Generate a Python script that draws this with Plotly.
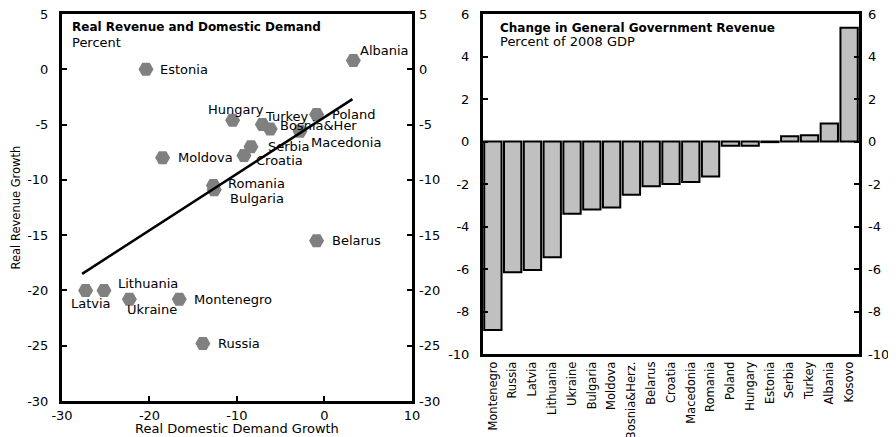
import plotly.graph_objects as go

# Left panel: real revenue growth vs real domestic demand growth (percent)
countries = ["Albania", "Estonia", "Hungary", "Turkey", "Bosnia&Her", "Poland", "Macedonia",
             "Serbia", "Croatia", "Moldova", "Romania", "Bulgaria", "Belarus",
             "Lithuania", "Latvia", "Ukraine", "Montenegro", "Russia"]
demand_growth = [3.3, -20.4, -10.5, -7.1, -6.2, -0.9, -2.8, -8.4, -9.2, -18.5,
                 -12.7, -12.6, -0.9, -25.2, -27.3, -22.3, -16.6, -13.9]
revenue_growth = [0.8, 0.0, -4.6, -5.0, -5.4, -4.1, -5.6, -7.0, -7.8, -8.0,
                  -10.5, -10.9, -15.5, -20.0, -20.0, -20.8, -20.8, -24.8]

# fitted line, end points
trend_demand = [-27.7, 3.2]
trend_revenue = [-18.5, -2.7]

left_x_ticks = [-30, -20, -10, 0, 10]
left_y_ticks = [5, 0, -5, -10, -15, -20, -25, -30]

# Right panel: change in general government revenue (percent of 2008 GDP)
bar_countries = ["Montenegro", "Russia", "Latvia", "Lithuania", "Ukraine", "Bulgaria",
                 "Moldova", "Bosnia&Herz.", "Belarus", "Croatia", "Macedonia", "Romania",
                 "Poland", "Hungary", "Estonia", "Serbia", "Turkey", "Albania", "Kosovo"]
revenue_change = [-8.87, -6.15, -6.05, -5.45, -3.4, -3.2, -3.1, -2.5, -2.1, -2.0,
                  -1.9, -1.65, -0.2, -0.2, -0.03, 0.25, 0.3, 0.85, 5.35]

right_y_ticks = [6, 4, 2, 0, -2, -4, -6, -8, -10]

# label offsets from the marker, in pixels (xshift, yshift)
label_shift = {
    "Albania": (5, 10), "Estonia": (12, 0), "Hungary": (-27, 11), "Turkey": (1, 8),
    "Bosnia&Her": (8, 3), "Poland": (13, 0), "Macedonia": (9, -11), "Serbia": (15, 0),
    "Croatia": (10, -5), "Moldova": (13, 0), "Romania": (13, 2), "Bulgaria": (14, -9),
    "Belarus": (13, 0), "Lithuania": (12, 7), "Latvia": (-17, -13), "Ukraine": (-4, -10),
    "Montenegro": (13, 0), "Russia": (13, 0),
}

FONT = "DejaVu Sans"

fig = go.Figure()

fig.add_trace(go.Scatter(x=demand_growth, y=revenue_growth, mode="markers",
                         marker=dict(symbol="hexagon2", size=15, color="#808080"),
                         showlegend=False, hoverinfo="skip", xaxis="x", yaxis="y"))
fig.add_trace(go.Scatter(x=trend_demand, y=trend_revenue, mode="lines",
                         line=dict(color="black", width=2.5),
                         showlegend=False, hoverinfo="skip", xaxis="x", yaxis="y"))
# dummy trace so the right-hand tick axis of the left panel gets drawn
fig.add_trace(go.Scatter(x=[None], y=[None], xaxis="x", yaxis="y2", showlegend=False))

fig.add_trace(go.Bar(x=bar_countries, y=revenue_change,
                     marker=dict(color="#c0c0c0", line=dict(color="black", width=2)),
                     showlegend=False, hoverinfo="skip", xaxis="x2", yaxis="y3"))
fig.add_trace(go.Scatter(x=[None], y=[None], xaxis="x2", yaxis="y4", showlegend=False))

tick_font = dict(family=FONT, size=13, color="black")
frame = dict(showline=True, linecolor="black", linewidth=3, showgrid=False,
             zeroline=False, automargin=False)
tick_only = dict(ticks="", showline=False, showgrid=False, zeroline=False,
                 automargin=False, ticklabeloverflow="allow")

# the page body adds an 8px margin, so the figure is 8px smaller than the window
fig.update_layout(
    width=888, height=429,
    margin=dict(l=54, r=37, t=6, b=36, autoexpand=False),
    plot_bgcolor="white", paper_bgcolor="white",
    bargap=0.125,
    xaxis=dict(domain=[0, 0.4391], range=[-30, 10], anchor="y",
               tickvals=left_x_ticks, ticktext=[str(v) for v in left_x_ticks],
               ticks="inside", ticklen=5, tickwidth=2, tickcolor="black",
               mirror=True, tickfont=tick_font, **frame),
    yaxis=dict(domain=[0, 1], range=[-30, 5], anchor="x",
               tickvals=left_y_ticks, ticktext=[str(v) for v in left_y_ticks],
               ticks="inside", ticklen=5, tickwidth=2, tickcolor="black",
               mirror="ticks", tickfont=tick_font, ticklabelstandoff=8,
               ticklabeloverflow="allow", **frame),
    yaxis2=dict(overlaying="y", side="right", anchor="x", range=[-30, 5],
                tickvals=left_y_ticks, ticktext=[str(v) for v in left_y_ticks],
                tickfont=tick_font, ticklabelstandoff=6, **tick_only),
    xaxis2=dict(domain=[0.5282, 1], anchor="y3", type="category",
                tickangle=-90, ticks="", mirror=True,
                tickfont=dict(family=FONT, size=11.5, color="black"), **frame),
    yaxis3=dict(domain=[0.1214, 1], range=[-10, 6], anchor="x2",
                tickvals=right_y_ticks, ticktext=[str(v) for v in right_y_ticks],
                ticks="inside", ticklen=5, tickwidth=2, tickcolor="black",
                mirror="ticks", tickfont=tick_font, ticklabelstandoff=8,
                ticklabeloverflow="allow", **frame),
    yaxis4=dict(overlaying="y3", side="right", anchor="x2", range=[-10, 6],
                tickvals=right_y_ticks, ticktext=[str(v) for v in right_y_ticks],
                tickfont=tick_font, ticklabelstandoff=8, **tick_only),
)

label_font = dict(family=FONT, size=13, color="black")
for name, dx, ry in zip(countries, demand_growth, revenue_growth):
    xs, ys = label_shift[name]
    fig.add_annotation(x=dx, y=ry, xref="x", yref="y", text=name, showarrow=False,
                       xanchor="left", yanchor="middle", xshift=xs, yshift=ys,
                       font=label_font)

# panel titles
fig.add_annotation(x=0.023, y=0.9656, xref="x domain", yref="y domain",
                   text="<b>Real Revenue and Domestic Demand</b>", showarrow=False,
                   xanchor="left", yanchor="middle",
                   font=dict(family=FONT, size=12, color="black"))
fig.add_annotation(x=0.023, y=0.9269, xref="x domain", yref="y domain",
                   text="Percent", showarrow=False, xanchor="left", yanchor="middle",
                   font=dict(family=FONT, size=13, color="black"))
fig.add_annotation(x=0.04, y=0.9597, xref="x2 domain", yref="y3 domain",
                   text="<b>Change in General Government Revenue</b>", showarrow=False,
                   xanchor="left", yanchor="middle",
                   font=dict(family=FONT, size=12, color="black"))
fig.add_annotation(x=0.04, y=0.9185, xref="x2 domain", yref="y3 domain",
                   text="Percent of 2008 GDP", showarrow=False, xanchor="left",
                   yanchor="middle", font=dict(family=FONT, size=13, color="black"))

# axis titles of the scatter
fig.add_annotation(x=0.5, y=0, xref="x domain", yref="paper", yshift=-27,
                   text="Real Domestic Demand Growth", showarrow=False,
                   xanchor="center", yanchor="middle",
                   font=dict(family=FONT, size=13, color="black"))
fig.add_annotation(x=0, y=0.5, xref="paper", yref="y domain", xshift=-47,
                   text="Real Revenue Growth", showarrow=False, textangle=-90,
                   xanchor="center", yanchor="middle",
                   font=dict(family=FONT, size=11.5, color="black"))

fig.write_html("out.html")
